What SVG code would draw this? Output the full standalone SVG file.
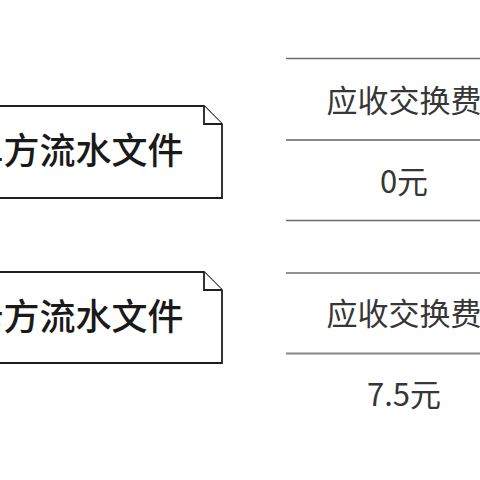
<svg xmlns="http://www.w3.org/2000/svg" width="480" height="480" viewBox="0 0 480 480">
<style>
.doc{fill:#fff;stroke:#1e1e1e;stroke-width:1.8;stroke-linejoin:miter}
.doct{font-family:"Noto Sans CJK SC","Noto Sans",sans-serif;font-size:36px;fill:#1a1a1a;font-weight:500}
.tl{stroke:#6e6e6e;stroke-width:1.5}
.tt{font-family:"Noto Sans CJK SC","Noto Sans",sans-serif;font-size:31px;fill:#363636;text-anchor:middle}
</style>
<rect width="480" height="480" fill="#fff"/>
<g id="doc1">
<path class="doc" d="M-10,106 H204 L222,124 V198 H-10 Z"/>
<path class="doc" d="M204,106 V124 H222"/>
<text class="doct" x="183.5" y="164" text-anchor="end">收单方流水文件</text>
</g>
<g id="doc2">
<path class="doc" d="M-10,272 H204 L222,290 V363 H-10 Z"/>
<path class="doc" d="M204,272 V290 H222"/>
<text class="doct" x="183.5" y="330" text-anchor="end">发卡方流水文件</text>
</g>
<g id="table1">
<line class="tl" x1="286" y1="58.5" x2="490" y2="58.5"/>
<line class="tl" x1="286" y1="140" x2="490" y2="140" style="stroke-width:2;stroke:#888"/>
<line class="tl" x1="286" y1="220.5" x2="490" y2="220.5"/>
<text class="tt" x="404" y="111.5">应收交换费</text>
<text class="tt" x="404" y="192.5">0元</text>
</g>
<g id="table2">
<line class="tl" x1="286" y1="273" x2="490" y2="273"/>
<line class="tl" x1="286" y1="353.5" x2="490" y2="353.5" style="stroke-width:2;stroke:#888"/>
<text class="tt" x="404" y="324.5">应收交换费</text>
<text class="tt" x="404" y="405.5">7.5元</text>
</g>
</svg>
